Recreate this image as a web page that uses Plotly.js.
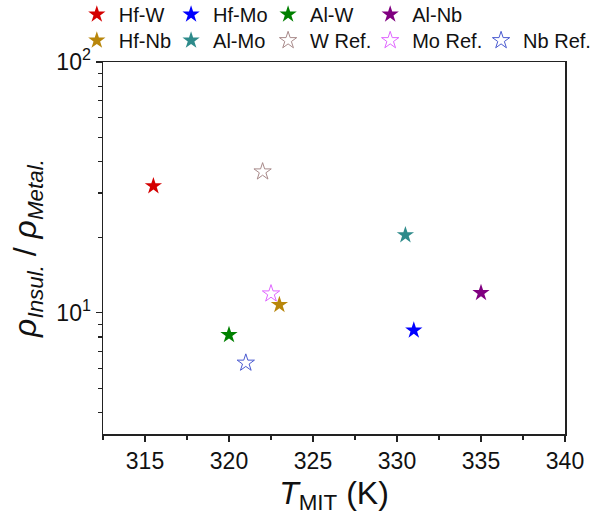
<!DOCTYPE html>
<html>
<head>
<meta charset="utf-8">
<script src="https://cdn.plot.ly/plotly-3.0.1.min.js"></script>
<style>html,body{margin:0;padding:0;background:#fff;}#chart{width:595px;height:524px;}</style>
</head>
<body>
<div id="chart"></div>
<script>
// Data
const names   = ['Hf-W', 'Hf-Mo', 'Al-W', 'Al-Nb', 'Hf-Nb', 'Al-Mo', 'W Ref.', 'Mo Ref.', 'Nb Ref.'];
const tMIT    = [315.5, 331.0, 320.0, 335.0, 323.0, 330.5, 322.0, 322.5, 321.0];
const ratio   = [32.0, 8.5, 8.15, 12.0, 10.75, 20.4, 36.5, 11.9, 6.3];
const colors  = ['#d40000', '#0000ff', '#008000', '#800080', '#b8860b', '#2e8b8b', '#a88a8a', '#e066ff', '#4a5ad0'];
const symbols = ['star', 'star', 'star', 'star', 'star', 'star', 'star-open', 'star-open', 'star-open'];

const xTicks = [315, 320, 325, 330, 335, 340];
const yTickVals = [10, 100];
const yTickText = ['10<sup>1</sup>', '10<sup>2</sup>'];
const yMinorVals = [4, 5, 6, 7, 8, 9, 20, 30, 40, 50, 60, 70, 80, 90];

// legend entry placement (paper coordinates), one legend per entry
const legendX = [-0.061, 0.143, 0.353, 0.574, -0.061, 0.143, 0.353, 0.574, 0.814];
const legendY = [1.128, 1.128, 1.128, 1.128, 1.058, 1.058, 1.058, 1.058, 1.058];

const FONT = 'Liberation Sans, Arial, sans-serif';

const traces = names.map((n, i) => ({
  type: 'scatter',
  mode: 'markers',
  name: n,
  x: [tMIT[i]],
  y: [ratio[i]],
  legend: i === 0 ? 'legend' : 'legend' + (i + 1),
  marker: {
    symbol: symbols[i],
    size: 13,
    color: colors[i],
    line: {color: colors[i], width: symbols[i] === 'star-open' ? 1 : 0}
  }
}));

const layout = {
  width: 595,
  height: 524,
  margin: {l: 103, r: 30, t: 62, b: 90, autoexpand: false},
  paper_bgcolor: '#fff',
  plot_bgcolor: '#fff',
  font: {family: FONT, color: '#111', size: 22},
  showlegend: true,
  xaxis: {
    range: [312.5, 340],
    tickmode: 'array', tickvals: xTicks,
    ticks: 'outside', ticklen: 6, tickwidth: 1.5, tickcolor: '#222',
    showline: true, linecolor: '#222', linewidth: 1.5, mirror: true,
    showgrid: false, zeroline: false, automargin: false,
    tickfont: {family: FONT, size: 23, color: '#111'},
    minor: {ticks: 'outside', dtick: 2.5, tick0: 312.5, ticklen: 4, tickwidth: 1.2, tickcolor: '#222', showgrid: false},
    title: {text: '<i>T</i><sub>MIT</sub> (K)', font: {family: FONT, size: 32, color: '#111'}, standoff: 8}
  },
  yaxis: {
    type: 'log',
    range: [Math.log10(3.28), 2],
    tickmode: 'array', tickvals: yTickVals, ticktext: yTickText,
    ticks: 'outside', ticklen: 6, tickwidth: 1.5, tickcolor: '#222',
    showline: true, linecolor: '#222', linewidth: 1.5, mirror: true,
    showgrid: false, zeroline: false, automargin: false,
    tickfont: {family: FONT, size: 23, color: '#111'},
    minor: {ticks: 'outside', tickmode: 'array', tickvals: yMinorVals, ticklen: 4, tickwidth: 1.2, tickcolor: '#222', showgrid: false},
    title: {text: '<i>ρ</i><sub><i>Insul.</i></sub> / <i>ρ</i><sub><i>Metal.</i></sub>', font: {family: FONT, size: 32, color: '#111'}, standoff: 10}
  }
};

names.forEach((n, i) => {
  const key = i === 0 ? 'legend' : 'legend' + (i + 1);
  layout[key] = {
    orientation: 'h', x: legendX[i], y: legendY[i], xanchor: 'left', yanchor: 'middle',
    font: {family: FONT, size: 20, color: '#111'}, bgcolor: 'rgba(0,0,0,0)',
    itemsizing: 'trace', itemwidth: 34
  };
});

Plotly.newPlot('chart', traces, layout, {displayModeBar: false, staticPlot: true});
</script>
</body>
</html>
